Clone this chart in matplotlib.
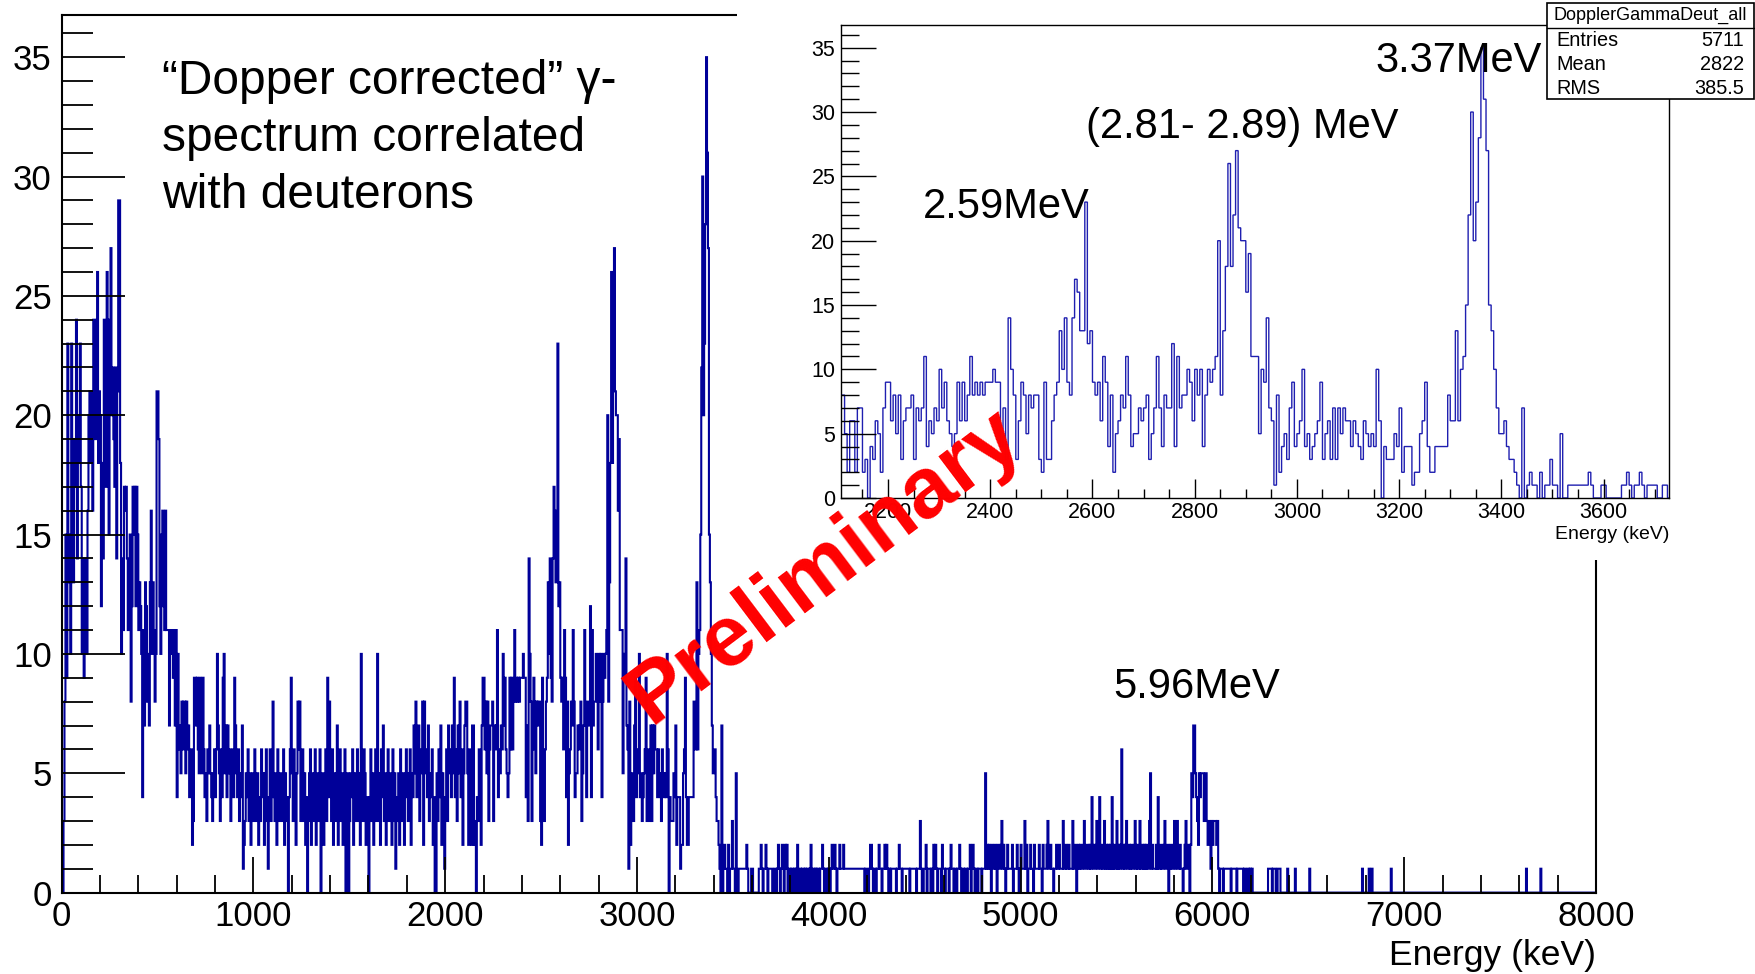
import numpy as np
import matplotlib
matplotlib.use("Agg")
import matplotlib.pyplot as plt
from matplotlib.patches import Rectangle
from matplotlib.lines import Line2D
from matplotlib.ticker import MultipleLocator

plt.rcParams['font.family'] = ['Liberation Sans', 'DejaVu Sans']

# ---------------- data (counts per 5 keV bin) ----------------
BIN_WIDTH = 5  # keV

counts_0000_2105 = [
    1, 0, 3, 8, 15, 9, 23, 13, 15, 10,
    23, 18, 13, 19, 17, 24, 14, 18, 20, 23,
    17, 10, 14, 9, 12, 14, 10, 16, 20, 21,
    18, 21, 16, 24, 22, 19, 24, 26, 18, 21,
    20, 12, 18, 14, 24, 21, 17, 26, 24, 15,
    21, 27, 20, 22, 19, 17, 22, 14, 21, 29,
    29, 18, 10, 14, 11, 17, 16, 17, 14, 11,
    13, 15, 8, 12, 17, 15, 17, 12, 17, 15,
    11, 13, 12, 10, 4, 11, 7, 13, 12, 8,
    10, 7, 13, 16, 10, 13, 11, 8, 10, 21,
    21, 19, 12, 10, 15, 16, 12, 11, 16, 11,
    11, 11, 7, 11, 11, 10, 9, 11, 7, 11,
    4, 10, 6, 7, 5, 8, 6, 8, 8, 5,
    8, 6, 7, 4, 5, 6, 2, 3, 9, 9,
    7, 9, 6, 5, 9, 7, 5, 9, 6, 4,
    5, 3, 6, 5, 7, 5, 4, 3, 5, 6,
    4, 6, 10, 7, 5, 3, 6, 4, 9, 10,
    5, 7, 4, 7, 5, 6, 3, 5, 6, 4,
    9, 7, 5, 4, 6, 3, 5, 4, 7, 1,
    2, 3, 5, 4, 6, 3, 5, 2, 4, 5,
    3, 6, 4, 3, 5, 2, 4, 3, 6, 5,
    4, 2, 5, 6, 3, 1, 4, 6, 3, 5,
    8, 4, 3, 5, 2, 6, 4, 3, 5, 4,
    3, 6, 2, 5, 4, 3, 0, 4, 6, 9,
    5, 3, 6, 4, 2, 5, 8, 6, 8, 3,
    4, 6, 3, 5, 2, 4, 0, 3, 5, 6,
    2, 4, 5, 3, 6, 2, 4, 5, 3, 6,
    0, 3, 5, 2, 4, 6, 3, 9, 4, 8,
    5, 3, 6, 2, 4, 5, 3, 7, 2, 4,
    6, 3, 5, 2, 4, 6, 0, 3, 5, 0,
    3, 5, 4, 6, 2, 5, 3, 4, 6, 3,
    5, 2, 10, 4, 3, 6, 5, 2, 4, 3,
    0, 4, 6, 3, 5, 2, 4, 6, 3, 10,
    5, 3, 2, 6, 4, 7, 3, 5, 2, 4,
    6, 3, 5, 4, 2, 6, 3, 5, 1, 4,
    3, 5, 2, 6, 4, 3, 5, 2, 4, 6,
    5, 3, 4, 6, 2, 5, 4, 7, 5, 8,
    4, 6, 7, 3, 5, 6, 8, 2, 8, 5,
    6, 4, 7, 3, 5, 4, 6, 2, 4, 0,
    0, 5, 3, 6, 4, 7, 2, 5, 3, 1,
    4, 6, 3, 7, 5, 6, 4, 7, 5, 9,
    4, 6, 3, 7, 5, 8, 4, 6, 2, 5,
    7, 8,
]

counts_2110_3720 = [
    8, 5, 2, 6, 6, 2, 7, 7, 2, 3,
    0, 4, 3, 6, 5, 2, 7, 9, 9, 6,
    8, 5, 8, 3, 6, 7, 7, 8, 3, 7,
    6, 7, 11, 4, 6, 5, 7, 6, 10, 7,
    9, 6, 5, 4, 5, 9, 6, 9, 6, 8,
    11, 8, 9, 8, 9, 8, 9, 9, 9, 10,
    9, 9, 4, 7, 3, 14, 10, 8, 3, 6,
    9, 8, 5, 8, 7, 8, 8, 3, 2, 9,
    3, 3, 6, 8, 9, 13, 10, 14, 9, 8,
    14, 17, 16, 13, 13, 23, 12, 13, 9, 8,
    9, 6, 11, 9, 4, 8, 2, 5, 6, 8,
    7, 11, 8, 4, 5, 5, 7, 6, 7, 8,
    3, 5, 7, 11, 7, 4, 8, 7, 7, 12,
    4, 11, 7, 8, 8, 10, 9, 6, 10, 8,
    10, 4, 8, 10, 9, 10, 11, 20, 8, 13,
    18, 26, 18, 22, 27, 21, 20, 20, 16, 19,
    11, 11, 11, 5, 10, 9, 14, 7, 6, 1,
    8, 2, 4, 5, 3, 7, 9, 4, 5, 6,
    10, 4, 5, 3, 4, 5, 6, 9, 3, 5,
    6, 3, 7, 3, 7, 5, 7, 6, 6, 4,
    6, 5, 4, 3, 6, 5, 4, 5, 4, 10,
    6, 0, 4, 3, 3, 3, 5, 4, 7, 2,
    4, 4, 4, 1, 2, 2, 5, 6, 9, 4,
    2, 2, 4, 4, 4, 4, 4, 8, 6, 6,
    13, 6, 10, 11, 15, 22, 30, 20, 23, 28,
    35, 31, 27, 15, 13, 10, 7, 5, 5, 6,
    4, 3, 3, 2, 1, 0, 7, 0, 1, 2,
    1, 1, 0, 2, 0, 1, 1, 3, 1, 1,
    0, 5, 0, 0, 1, 1, 1, 1, 1, 1,
    1, 1, 2, 1, 0, 0, 0, 1, 1, 0,
    0, 0, 0, 0, 0, 1, 1, 2, 1, 0,
    1, 1, 2, 1, 0, 1, 1, 1, 1, 0,
    0, 1, 1,
]

counts_3725_6495 = [
    0, 1, 2, 1, 0,
    1, 2, 1, 0, 2, 1, 2, 0, 1, 1,
    0, 1, 1, 0, 1, 0, 1, 2, 0, 1,
    1, 0, 1, 1, 0, 1, 0, 1, 1, 0,
    1, 2, 0, 1, 1, 0, 1, 0, 1, 1,
    0, 1, 1, 2, 1, 0, 1, 1, 0, 1,
    1, 0, 1, 2, 1, 1, 2, 1, 0, 1,
    1, 2, 1, 1, 1, 2, 1, 1, 1, 1,
    1, 1, 1, 1, 1, 1, 1, 1, 1, 1,
    1, 1, 1, 1, 1, 1, 1, 0, 1, 1,
    0, 0, 1, 2, 2, 1, 0, 1, 1, 0,
    1, 1, 2, 1, 1, 0, 1, 1, 2, 1,
    2, 1, 0, 1, 0, 1, 1, 1, 1, 1,
    0, 1, 1, 2, 1, 1, 0, 1, 1, 1,
    1, 1, 1, 1, 0, 1, 1, 1, 1, 1,
    1, 0, 1, 1, 1, 3, 1, 0, 0, 1,
    1, 2, 0, 1, 1, 1, 0, 1, 0, 2,
    1, 2, 1, 0, 1, 1, 1, 0, 2, 1,
    1, 0, 1, 1, 1, 0, 1, 2, 1, 1,
    0, 1, 1, 0, 1, 1, 2, 1, 0, 1,
    1, 0, 1, 1, 0, 1, 1, 2, 0, 1,
    2, 1, 0, 1, 1, 0, 1, 1, 1, 0,
    1, 1, 1, 5, 1, 2, 1, 2, 1, 0,
    2, 1, 1, 2, 1, 0, 2, 1, 1, 2,
    3, 1, 2, 1, 0, 1, 2, 1, 1, 1,
    1, 2, 0, 1, 1, 1, 2, 1, 0, 1,
    2, 1, 1, 1, 3, 1, 2, 0, 1, 1,
    2, 1, 1, 0, 2, 1, 1, 1, 1, 2,
    1, 1, 0, 2, 1, 1, 1, 2, 3, 1,
    1, 2, 1, 1, 0, 1, 1, 2, 1, 1,
    2, 1, 1, 1, 3, 1, 1, 2, 1, 1,
    2, 1, 1, 1, 3, 1, 1, 2, 0, 1,
    2, 1, 2, 1, 1, 2, 3, 1, 1, 2,
    2, 1, 2, 1, 4, 2, 1, 1, 2, 3,
    1, 2, 4, 1, 2, 1, 1, 3, 1, 2,
    1, 2, 1, 2, 1, 4, 1, 2, 1, 1,
    3, 1, 2, 1, 2, 6, 1, 2, 1, 2,
    3, 1, 1, 2, 1, 2, 1, 1, 2, 3,
    1, 2, 1, 1, 3, 1, 1, 2, 1, 2,
    1, 2, 1, 1, 3, 5, 1, 2, 1, 1,
    1, 2, 1, 4, 1, 1, 2, 1, 1, 2,
    3, 1, 1, 2, 0, 1, 2, 1, 1, 2,
    3, 1, 2, 3, 1, 1, 2, 1, 1, 0,
    1, 2, 3, 1, 1, 2, 0, 2, 5, 4,
    7, 7, 5, 4, 3, 2, 5, 4, 5, 5,
    5, 3, 4, 5, 3, 2, 3, 3, 1, 3,
    2, 3, 3, 3, 2, 3, 1, 0, 1, 1,
    1, 0, 1, 1, 1, 1, 1, 1, 1, 0,
    1, 1, 1, 1, 1, 0, 1, 1, 1, 1,
    1, 1, 0, 1, 1, 0, 0, 1, 0, 1,
    0, 1, 0, 0, 0, 0, 0, 0, 0, 0,
    0, 0, 0, 0, 0, 0, 0, 0, 1, 1,
    1, 1, 0, 1, 1, 1, 0, 0, 1, 1,
    1, 0, 0, 0, 0, 0, 0, 0, 1, 0,
    0, 0, 0, 0, 0, 0, 1, 0, 0, 0,
    0, 0, 0, 0, 0, 0, 0, 0, 0, 0,
]

sparse_kev = [6505, 6780, 6815, 6830, 6930, 7635, 7710]
sparse_counts = [1, 1, 1, 1, 1, 1, 1]

x_ticks_main = [0, 1000, 2000, 3000, 4000, 5000, 6000, 7000, 8000]
y_ticks = [0, 5, 10, 15, 20, 25, 30, 35]
x_ticks_inset = [2200, 2400, 2600, 2800, 3000, 3200, 3400, 3600]

stats_names = ["Entries", "Mean", "RMS"]
stats_values = ["5711", "2822", "385.5"]

# ---------------- build histogram ----------------
edges = np.arange(0, 8000 + BIN_WIDTH, BIN_WIDTH)
counts = np.zeros(len(edges) - 1)


def place(start_kev, vals):
    i = start_kev // BIN_WIDTH
    n = min(len(vals), len(counts) - i)
    counts[i:i + n] = vals[:n]


place(0, counts_0000_2105)
place(2110, counts_2110_3720)
place(3725, counts_3725_6495)
for e, c in zip(sparse_kev, sparse_counts):
    counts[e // BIN_WIDTH] = c

# ---------------- figure ----------------
W, H = 1756, 974
fig = plt.figure(figsize=(W / 100, H / 100), dpi=100)
fig.patch.set_facecolor('white')


def fx(px):
    return px / W


def fy(py):
    return 1 - py / H


# main axes
L, R, T, B = 61.6, 1596, 15.4, 892.6
ax = fig.add_axes([fx(L), fy(B), (R - L) / W, (B - T) / H])
ax.stairs(counts, edges, color='#000099', lw=1.5)
ax.set_xlim(0, 8000)
ax.set_ylim(0, 36.75)
ax.set_xticks(x_ticks_main)
ax.set_yticks(y_ticks)
ax.xaxis.set_minor_locator(MultipleLocator(200))
ax.yaxis.set_minor_locator(MultipleLocator(1))
ax.tick_params(axis='both', which='both', direction='in', top=False, right=False,
               width=1.3, colors='black')
ax.tick_params(axis='y', which='major', length=45, pad=7, labelsize=25)
ax.tick_params(axis='y', which='minor', length=22)
ax.tick_params(axis='x', which='major', length=26, pad=5, labelsize=25)
ax.tick_params(axis='x', which='minor', length=13)
for s in ax.spines.values():
    s.set_linewidth(1.5)

# white canvas of the inset pad
pad = fig.add_axes([fx(737), fy(560), 1 - fx(737), 560 / H])
pad.set_xticks([])
pad.set_yticks([])
for s in pad.spines.values():
    s.set_visible(False)

# inset axes
IL, IR, IT, IB = 841, 1669, 25.2, 498
ins = fig.add_axes([fx(IL), fy(IB), (IR - IL) / W, (IB - IT) / H])
ins.stairs(counts, edges, color='#1f1fb0', lw=1.0)
ins.set_xlim(2108, 3728)
ins.set_ylim(0, 36.75)
ins.set_xticks(x_ticks_inset)
ins.set_yticks(y_ticks)
ins.xaxis.set_minor_locator(MultipleLocator(50))
ins.yaxis.set_minor_locator(MultipleLocator(1))
ins.tick_params(axis='both', which='both', direction='in', top=False, right=False,
                width=1.0, colors='black')
ins.tick_params(axis='y', which='major', length=25, pad=4, labelsize=15.5)
ins.tick_params(axis='y', which='minor', length=12.7)
ins.tick_params(axis='x', which='major', length=14, pad=3, labelsize=15.5)
ins.tick_params(axis='x', which='minor', length=6.5)
for s in ins.spines.values():
    s.set_linewidth(1.0)

# stats box
bx0, bx1, by0, by1 = 1547, 1754, 3.4, 98.6
fig.add_artist(Rectangle((fx(bx0), fy(by1)), (bx1 - bx0) / W, (by1 - by0) / H,
                         transform=fig.transFigure, facecolor='white',
                         edgecolor='black', lw=1.2, zorder=5))
fig.add_artist(Line2D([fx(bx0), fx(bx1)], [fy(28), fy(28)], transform=fig.transFigure,
                      color='black', lw=1.0, zorder=6))
fig.text(fx((bx0 + bx1) / 2), fy(15.5), 'DopplerGammaDeut_all', ha='center', va='center',
         fontsize=13, zorder=6)
for name, val, yy in zip(stats_names, stats_values, [40, 64, 88.5]):
    fig.text(fx(1556), fy(yy), name, ha='left', va='center', fontsize=14.3, zorder=6)
    fig.text(fx(1744), fy(yy), val, ha='right', va='center', fontsize=14.3, zorder=6)

# titles / annotations
title_lines = ['\u201cDopper corrected\u201d \u03b3-', 'spectrum correlated', 'with deuterons']
for line, yb in zip(title_lines, [94, 151, 208]):
    fig.text(fx(162), fy(yb), line, ha='left', va='baseline', fontsize=34.5)

fig.text(fx(1375), fy(71.7), '3.37MeV', ha='left', va='baseline', fontsize=30, zorder=4)
fig.text(fx(1086), fy(138), '(2.81- 2.89) MeV', ha='left', va='baseline', fontsize=30, zorder=4)
fig.text(fx(923), fy(218), '2.59MeV', ha='left', va='baseline', fontsize=30, zorder=4)
fig.text(fx(1113), fy(697.7), '5.96MeV', ha='left', va='baseline', fontsize=30, zorder=4)

fig.text(fx(1596), fy(965), 'Energy (keV)', ha='right', va='baseline', fontsize=25.5)
fig.text(fx(1669), fy(538.6), 'Energy (keV)', ha='right', va='baseline', fontsize=14)

fig.text(fx(825), fy(567), 'Preliminary', rotation=37, rotation_mode='anchor',
         color='#ff0000', fontweight='bold', fontsize=62, ha='center', va='center', zorder=10)

fig.savefig('out.png', dpi=100, facecolor='white')
